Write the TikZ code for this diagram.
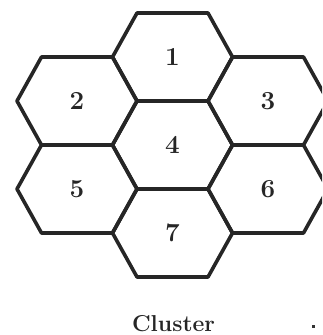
\documentclass[tikz,border=0pt]{standalone}
\usetikzlibrary{calc}
\begin{document}
\begin{tikzpicture}[x=1pt,y=1pt,
  cellline/.style={line width=3.6pt,draw=black!85,line join=round,line cap=round},
  celllabel/.style={font=\fontsize{26}{26}\selectfont\bfseries,text=black!85,inner sep=0pt},
  captionlabel/.style={font=\fontsize{23}{23}\selectfont\bfseries,text=black!85,inner sep=0pt,anchor=base}]
\useasboundingbox (0,0) rectangle (322,335);
\clip (0,0) rectangle (322,335);
\newcommand\hexcell[1]{%
  \draw[cellline] ($(#1)+(-60,0)$) -- ($(#1)+(-35.5,44)$) -- ($(#1)+(35.5,44)$) -- ($(#1)+(60,0)$) -- ($(#1)+(35.5,-44)$) -- ($(#1)+(-35.5,-44)$) -- cycle;}
\coordinate (c1) at (172.5,278);
\coordinate (c2) at (77,234);
\coordinate (c3) at (268,234);
\coordinate (c4) at (172.5,190);
\coordinate (c5) at (77,146);
\coordinate (c6) at (268,146);
\coordinate (c7) at (172.5,102);
\foreach \i in {1,...,7} {\hexcell{c\i}}
\node[celllabel] (h1) at (c1) {1};
\node[celllabel] (h2) at (c2) {2};
\node[celllabel] (h3) at (c3) {3};
\node[celllabel] (h4) at (c4) {4};
\node[celllabel] (h5) at (c5) {5};
\node[celllabel] (h6) at (c6) {6};
\node[celllabel] (h7) at (c7) {7};
\node[captionlabel] (cap) at (173.5,3) {Cluster};
\fill[black!80] (312,7) rectangle (314.5,10);
\end{tikzpicture}
\end{document}
